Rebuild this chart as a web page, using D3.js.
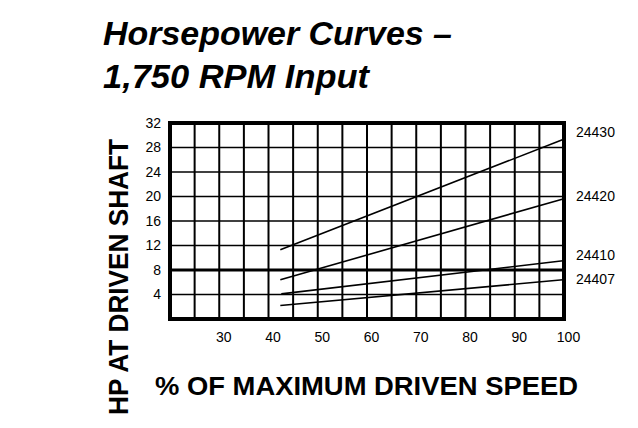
<!DOCTYPE html>
<html><head><meta charset="utf-8">
<script src="https://cdn.jsdelivr.net/npm/d3@7"></script>
<style>body{margin:0;background:#fff}</style></head>
<body><svg id="c" width="638" height="428"></svg>
<script>
const xTicks = [30,40,50,60,70,80,90,100];
const yTicks = [4,8,12,16,20,24,28,32];
const models = ["24430","24420","24410","24407"];
const startX = [42.4,42.4,42.6,42.4];
const startY = [11.3,6.4,4.1,2.2];
const endX = [99.8,99.8,99.8,99.8];
const endY = [29.3,19.6,9.5,6.4];
const labelY = [30.5,20,10.5,6.5];
const refLine = 8;

const svg = d3.select("#c");
const L=170,R=564,T=123,B=319;
const x = d3.scaleLinear().domain([20,100]).range([L,R]);
const y = d3.scaleLinear().domain([0,32]).range([B,T]);
const g = svg.append("g");
// vertical grid every 5
g.selectAll(".v").data(d3.range(25,100,5)).enter().append("line")
 .attr("x1",d=>x(d)).attr("x2",d=>x(d)).attr("y1",T).attr("y2",B)
 .attr("stroke","#000").attr("stroke-width",2);
g.selectAll(".h").data(yTicks.filter(d=>d<32)).enter().append("line")
 .attr("y1",d=>y(d)).attr("y2",d=>y(d)).attr("x1",L).attr("x2",R)
 .attr("stroke","#000").attr("stroke-width",d=>d===refLine?3:1.5);
g.append("rect").attr("x",L).attr("y",T).attr("width",R-L).attr("height",B-T)
 .attr("fill","none").attr("stroke","#000").attr("stroke-width",4);
models.forEach((m,i)=>{
  g.append("line").attr("x1",x(startX[i])).attr("y1",y(startY[i]))
   .attr("x2",x(endX[i])).attr("y2",y(endY[i])).attr("stroke","#000").attr("stroke-width",1.6);
  svg.append("text").attr("x",576).attr("y",y(labelY[i])).attr("dy","0.35em")
   .attr("font-family","Liberation Sans, Arial").attr("font-size",14).text(m);
});
const xa = svg.append("g").attr("transform",`translate(0,${B+10})`)
 .call(d3.axisBottom(x).tickValues(xTicks).tickSize(0).tickFormat(d3.format("d")));
xa.select(".domain").remove();
xa.selectAll("text").attr("font-family","Liberation Sans, Arial").attr("font-size",14).attr("fill","#000").attr("dx",4);
const ya = svg.append("g").attr("transform",`translate(${L-6},0)`)
 .call(d3.axisLeft(y).tickValues(yTicks).tickSize(0));
ya.select(".domain").remove();
ya.selectAll("text").attr("font-family","Liberation Sans, Arial").attr("font-size",14).attr("fill","#000");
const bf = "Liberation Sans, Arial";
svg.append("text").attr("x",103).attr("y",45).attr("font-family",bf).attr("font-weight","bold")
 .attr("font-style","italic").attr("font-size",33).attr("textLength",349).attr("lengthAdjust","spacingAndGlyphs")
 .text("Horsepower Curves –");
svg.append("text").attr("x",103).attr("y",88).attr("font-family",bf).attr("font-weight","bold")
 .attr("font-style","italic").attr("font-size",33).attr("textLength",266).attr("lengthAdjust","spacingAndGlyphs")
 .text("1,750 RPM Input");
svg.append("text").attr("transform","translate(128,415) rotate(-90)").attr("font-family",bf)
 .attr("font-weight","bold").attr("font-size",27).attr("textLength",276).attr("lengthAdjust","spacingAndGlyphs")
 .text("HP AT DRIVEN SHAFT");
svg.append("text").attr("x",155).attr("y",395).attr("font-family",bf)
 .attr("font-weight","bold").attr("font-size",25).attr("textLength",423).attr("lengthAdjust","spacingAndGlyphs")
 .text("% OF MAXIMUM DRIVEN SPEED");
</script></body></html>
